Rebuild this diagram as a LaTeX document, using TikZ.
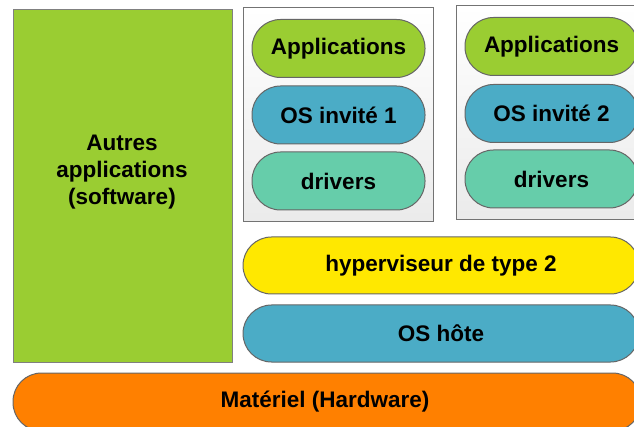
\documentclass[tikz,border=0pt]{standalone}
\usepackage{fontspec}
\setmainfont{Liberation Sans}
\begin{document}
\begin{tikzpicture}[x=1pt,y=-1pt,
  lbl/.style={font=\fontsize{22.5}{27}\selectfont\bfseries, text=black, align=center},
  pill/.style={lbl, draw=black!60, line width=1pt, rounded corners=28.5pt, inner sep=0pt},
  vmbox/.style={draw=black!55, line width=1pt, top color=white, bottom color=black!8},
]
\definecolor{cgreen}{HTML}{9ACD32}
\definecolor{cblue}{HTML}{4BACC6}
\definecolor{cteal}{HTML}{66CDAA}
\definecolor{cyellow}{HTML}{FFE800}
\definecolor{corange}{HTML}{FF8000}
\useasboundingbox (0,0) rectangle (634,427);
\clip (0,0) rectangle (634,427);
\fill[white] (0,0) rectangle (634,427);

% left software block
\node[draw=black!50, line width=1pt, fill=cgreen, minimum width=219pt, minimum height=352pt, inner sep=0pt] (other) at (122.5,186) {};
\node[lbl] (otherlbl) at (122,172) {Autres\\applications\\(software)};

% VM boxes
\node[vmbox, minimum width=190pt, minimum height=214pt, inner sep=0pt] (vm1) at (338,115) {};
\node[vmbox, minimum width=190pt, minimum height=214pt, inner sep=0pt] (vm2) at (551,113) {};

% VM 1 layers
\node[pill, fill=cgreen, minimum width=173pt, minimum height=58pt] (app1) at (338.5,48.5) {Applications};
\node[pill, fill=cblue, minimum width=173pt, minimum height=58pt] (os1) at (338.5,115) {OS invité 1};
\node[pill, fill=cteal, minimum width=173pt, minimum height=58pt] (drv1) at (338.5,181) {drivers};

% VM 2 layers
\node[pill, fill=cgreen, minimum width=173pt, minimum height=58pt] (app2) at (551.5,46.5) {Applications};
\node[pill, fill=cblue, minimum width=173pt, minimum height=58pt] (os2) at (551.5,113.5) {OS invité 2};
\node[pill, fill=cteal, minimum width=173pt, minimum height=58pt] (drv2) at (551.5,179) {drivers};

% hypervisor and host OS
\node[pill, fill=cyellow, minimum width=396pt, minimum height=57pt] (hyp) at (441,265.5) {};
\node[lbl] (hyplbl) at (441,265.5) {hyperviseur de type 2};
\node[pill, fill=cblue, minimum width=396pt, minimum height=57pt] (host) at (441,333.5) {};
\node[lbl] (hostlbl) at (441,333.5) {OS hôte};

% hardware
\node[pill, fill=corange, minimum width=628pt, minimum height=58pt] (hw) at (327,402) {};
\node[lbl] (hwlbl) at (325,402) {Matériel (Hardware)};
\end{tikzpicture}
\end{document}
